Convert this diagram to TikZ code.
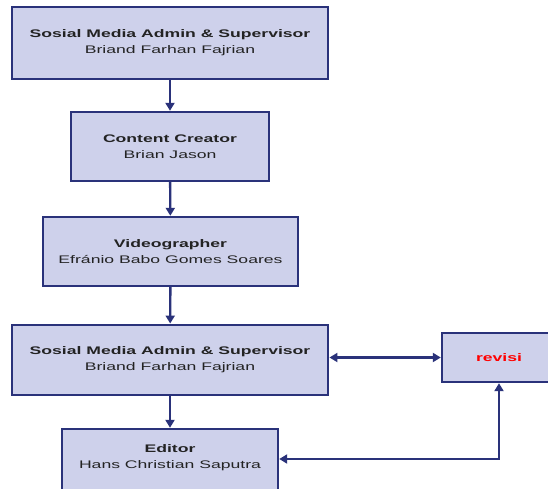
\documentclass[tikz,border=0pt]{standalone}
\usepackage{fontspec}
\usepackage{tikz}
\usetikzlibrary{arrows.meta}
\newfontfamily\boxfont{Liberation Sans}[FakeStretch=1.6]
\definecolor{navy}{RGB}{42,50,122}
\definecolor{lavender}{RGB}{206,209,235}
\definecolor{inkgray}{RGB}{35,35,35}

\tikzset{
    jobbox/.style={draw=navy, fill=lavender, line width=2.4pt, align=center,
        inner sep=0pt, font=\boxfont\fontsize{11}{16}\selectfont, text=inkgray},
    flow/.style={draw=navy, line width=2.4pt}
}

\begin{document}
\begin{tikzpicture}[x=1pt, y=-1pt, >={Triangle[length=8pt, width=9pt]}]
            \clip (0, 0) rectangle (548, 489);
            \fill[white] (0, 0) rectangle (548, 489);

            \node[jobbox, minimum width=316.5pt, minimum height=72pt] (admin) at (170, 43)
                {\textbf{Sosial Media Admin \& Supervisor}\\Briand Farhan Fajrian};
            \node[jobbox, minimum width=198pt, minimum height=69pt] (creator) at (170, 146.5)
                {\textbf{Content Creator}\\Brian Jason};
            \node[jobbox, minimum width=255pt, minimum height=69pt] (video) at (170.5, 251.5)
                {\textbf{Videographer}\\Efránio Babo Gomes Soares};
            \node[jobbox, minimum width=316.5pt, minimum height=70.5pt] (admincheck) at (170, 360)
                {\textbf{Sosial Media Admin \& Supervisor}\\Briand Farhan Fajrian};
            \node[jobbox, minimum width=114pt, minimum height=49pt, text=red] (revisi) at (499, 357.5)
                {\textbf{revisi}};
            % box runs past the bottom edge, text sits high
            \node[jobbox, minimum width=216pt, minimum height=66pt, text depth=10pt] (editor) at (170, 462)
                {\textbf{Editor}\\Hans Christian Saputra};

            \draw[flow, ->] (admin) -- (creator);
            \draw[flow, ->] (creator) -- (video);
            \draw[flow, ->] (video) -- (admincheck);
            \draw[flow, ->] (admincheck) -- (editor);
            \draw[flow, <->] (revisi.west -| admincheck.east) -- (revisi.west);
            \draw[flow, <->] ([yshift=3pt]editor.east) -| (revisi.south);
        \end{tikzpicture}
\end{document}
